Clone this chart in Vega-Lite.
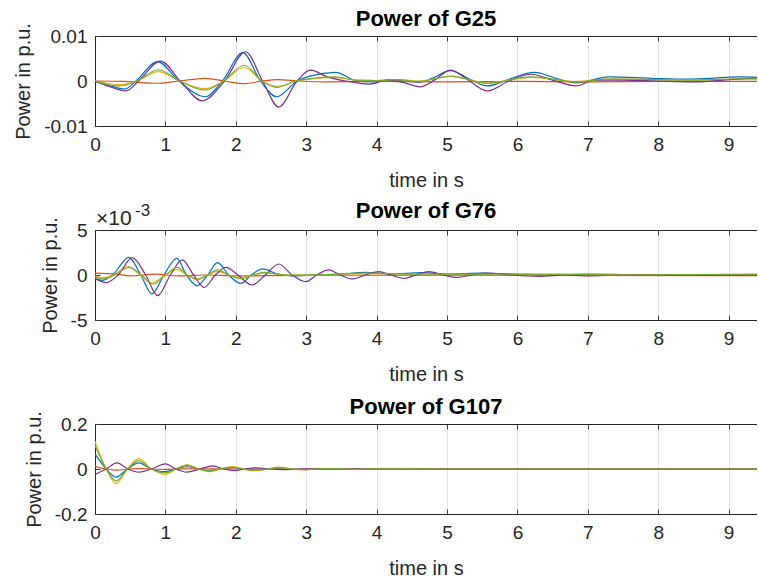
{
  "$schema": "https://vega.github.io/schema/vega-lite/v6.json",
  "background": "white",
  "padding": {"left": 13, "top": 7, "right": 0, "bottom": 0},
  "spacing": 104,
  "bounds": "flush",
  "config": {
    "font": "Liberation Sans",
    "view": {"stroke": null},
    "axis": {
      "domainColor": "#262626", "domainWidth": 1,
      "tickColor": "#404040", "tickWidth": 1,
      "labelColor": "#262626", "labelFont": "Liberation Sans", "labelFontSize": 19,
      "titleColor": "#262626", "titleFont": "Liberation Sans", "titleFontSize": 20, "titleFontWeight": "normal",
      "gridColor": "#e3e3e3", "gridWidth": 1
    },
    "title": {"font": "Liberation Sans", "fontSize": 22, "fontWeight": "bold", "color": "#000000", "anchor": "middle", "offset": -8}
  },
  "datasets": {
    "g25": [
      {"s":"s1","t":0,"v":0},{"s":"s1","t":0.2,"v":-0.001},{"s":"s1","t":0.42,"v":-0.0018},{"s":"s1","t":0.58,"v":0},{"s":"s1","t":0.89,"v":0.0043},{"s":"s1","t":1.19,"v":0},{"s":"s1","t":1.57,"v":-0.0035},{"s":"s1","t":1.81,"v":0},{"s":"s1","t":2.1,"v":0.0063},{"s":"s1","t":2.35,"v":0},{"s":"s1","t":2.58,"v":-0.0035},{"s":"s1","t":2.87,"v":0},{"s":"s1","t":3.05,"v":0.0011},{"s":"s1","t":3.42,"v":0.0019},{"s":"s1","t":3.7,"v":0.0001},{"s":"s1","t":3.95,"v":-0.0002},{"s":"s1","t":4.2,"v":0.0003},{"s":"s1","t":4.6,"v":-0.0003},{"s":"s1","t":4.8,"v":0.0007},{"s":"s1","t":5.05,"v":0.0023},{"s":"s1","t":5.3,"v":0.0006},{"s":"s1","t":5.57,"v":-0.0011},{"s":"s1","t":5.9,"v":0.0005},{"s":"s1","t":6.24,"v":0.0019},{"s":"s1","t":6.55,"v":0.0006},{"s":"s1","t":6.83,"v":-0.0004},{"s":"s1","t":7.3,"v":0.0009},{"s":"s1","t":7.9,"v":0.0006},{"s":"s1","t":8.4,"v":0.0004},{"s":"s1","t":9.17,"v":0.0009},{"s":"s1","t":9.42,"v":0.0008},
      {"s":"s2","t":0,"v":0},{"s":"s2","t":0.4,"v":-0.0001},{"s":"s2","t":0.9,"v":-0.0005},{"s":"s2","t":1.2,"v":0},{"s":"s2","t":1.56,"v":0.0006},{"s":"s2","t":1.84,"v":0},{"s":"s2","t":2.12,"v":-0.0006},{"s":"s2","t":2.37,"v":0},{"s":"s2","t":2.6,"v":0.0003},{"s":"s2","t":2.9,"v":0},{"s":"s2","t":3.3,"v":-0.0002},{"s":"s2","t":4,"v":-0.0001},{"s":"s2","t":5,"v":-0.0002},{"s":"s2","t":6,"v":-0.0001},{"s":"s2","t":7,"v":-0.0002},{"s":"s2","t":8,"v":-0.0001},{"s":"s2","t":9.42,"v":-0.0001},
      {"s":"s3","t":0,"v":0},{"s":"s3","t":0.35,"v":-0.0008},{"s":"s3","t":0.6,"v":0},{"s":"s3","t":0.9,"v":0.0021},{"s":"s3","t":1.2,"v":0},{"s":"s3","t":1.56,"v":-0.0017},{"s":"s3","t":1.83,"v":0},{"s":"s3","t":2.12,"v":0.003},{"s":"s3","t":2.37,"v":0},{"s":"s3","t":2.6,"v":-0.0012},{"s":"s3","t":2.85,"v":0},{"s":"s3","t":3.1,"v":0.0005},{"s":"s3","t":3.4,"v":0.0008},{"s":"s3","t":3.7,"v":0.0002},{"s":"s3","t":4,"v":0.0001},{"s":"s3","t":4.3,"v":0.0003},{"s":"s3","t":4.6,"v":0},{"s":"s3","t":5.05,"v":0.001},{"s":"s3","t":5.57,"v":-0.0004},{"s":"s3","t":6.2,"v":0.0008},{"s":"s3","t":6.83,"v":-0.0001},{"s":"s3","t":7.3,"v":0.0004},{"s":"s3","t":8,"v":0.0003},{"s":"s3","t":8.5,"v":0.0002},{"s":"s3","t":9.2,"v":0.0004},{"s":"s3","t":9.42,"v":0.0004},
      {"s":"s4","t":0,"v":0},{"s":"s4","t":0.2,"v":-0.0012},{"s":"s4","t":0.44,"v":-0.0022},{"s":"s4","t":0.62,"v":0},{"s":"s4","t":0.93,"v":0.0044},{"s":"s4","t":1.21,"v":0},{"s":"s4","t":1.52,"v":-0.0044},{"s":"s4","t":1.84,"v":0},{"s":"s4","t":2.14,"v":0.0065},{"s":"s4","t":2.38,"v":0},{"s":"s4","t":2.61,"v":-0.0058},{"s":"s4","t":2.87,"v":0},{"s":"s4","t":3.06,"v":0.0024},{"s":"s4","t":3.32,"v":0.0008},{"s":"s4","t":3.6,"v":-0.0001},{"s":"s4","t":3.89,"v":-0.0007},{"s":"s4","t":4.16,"v":0.0002},{"s":"s4","t":4.4,"v":-0.0004},{"s":"s4","t":4.62,"v":-0.0013},{"s":"s4","t":4.83,"v":0.0003},{"s":"s4","t":5.05,"v":0.0024},{"s":"s4","t":5.3,"v":0.0002},{"s":"s4","t":5.57,"v":-0.0022},{"s":"s4","t":5.88,"v":0},{"s":"s4","t":6.19,"v":0.0015},{"s":"s4","t":6.5,"v":0.0002},{"s":"s4","t":6.83,"v":-0.0011},{"s":"s4","t":7.1,"v":0.0002},{"s":"s4","t":7.5,"v":0.0002},{"s":"s4","t":8,"v":0},{"s":"s4","t":8.53,"v":-0.0002},{"s":"s4","t":9,"v":0.0003},{"s":"s4","t":9.42,"v":0.0007},
      {"s":"s5","t":0,"v":0},{"s":"s5","t":0.35,"v":-0.0011},{"s":"s5","t":0.6,"v":0},{"s":"s5","t":0.9,"v":0.0025},{"s":"s5","t":1.2,"v":0},{"s":"s5","t":1.56,"v":-0.002},{"s":"s5","t":1.83,"v":0},{"s":"s5","t":2.12,"v":0.0035},{"s":"s5","t":2.37,"v":0},{"s":"s5","t":2.58,"v":-0.0014},{"s":"s5","t":2.85,"v":0},{"s":"s5","t":3.1,"v":0.0006},{"s":"s5","t":3.4,"v":0.0009},{"s":"s5","t":3.7,"v":0.0002},{"s":"s5","t":4,"v":0.0001},{"s":"s5","t":4.3,"v":0.0003},{"s":"s5","t":4.6,"v":-0.0001},{"s":"s5","t":5.05,"v":0.0011},{"s":"s5","t":5.57,"v":-0.0005},{"s":"s5","t":6.2,"v":0.0009},{"s":"s5","t":6.83,"v":-0.0002},{"s":"s5","t":7.3,"v":0.0004},{"s":"s5","t":8,"v":0.0003},{"s":"s5","t":8.5,"v":0.0002},{"s":"s5","t":9.2,"v":0.0005},{"s":"s5","t":9.42,"v":0.0005}
    ],
    "g76": [
      {"s":"s1","t":0,"v":-0.0004},{"s":"s1","t":0.1,"v":-0.0006},{"s":"s1","t":0.25,"v":0},{"s":"s1","t":0.48,"v":0.00196},{"s":"s1","t":0.65,"v":0},{"s":"s1","t":0.81,"v":-0.0021},{"s":"s1","t":0.98,"v":0},{"s":"s1","t":1.16,"v":0.00185},{"s":"s1","t":1.3,"v":0},{"s":"s1","t":1.45,"v":-0.0012},{"s":"s1","t":1.6,"v":0},{"s":"s1","t":1.74,"v":0.00137},{"s":"s1","t":1.9,"v":0},{"s":"s1","t":2.07,"v":-0.00093},{"s":"s1","t":2.22,"v":0},{"s":"s1","t":2.38,"v":0.00067},{"s":"s1","t":2.6,"v":0.0001},{"s":"s1","t":2.8,"v":-0.0001},{"s":"s1","t":3.1,"v":0},{"s":"s1","t":3.5,"v":0.0001},{"s":"s1","t":3.84,"v":0.0003},{"s":"s1","t":4.2,"v":0.0001},{"s":"s1","t":4.65,"v":0.00026},{"s":"s1","t":5,"v":0.0001},{"s":"s1","t":5.5,"v":0.0002},{"s":"s1","t":6,"v":0.0001},{"s":"s1","t":6.5,"v":0},{"s":"s1","t":7,"v":0.0001},{"s":"s1","t":8,"v":0},{"s":"s1","t":9.42,"v":0},
      {"s":"s2","t":0,"v":0.0002},{"s":"s2","t":0.3,"v":0.0001},{"s":"s2","t":0.5,"v":-0.0001},{"s":"s2","t":0.85,"v":0.0001},{"s":"s2","t":1.2,"v":-0.0001},{"s":"s2","t":1.6,"v":0},{"s":"s2","t":2,"v":-0.0001},{"s":"s2","t":3,"v":-0.00005},{"s":"s2","t":9.42,"v":-0.00007},
      {"s":"s3","t":0,"v":-0.0001},{"s":"s3","t":0.1,"v":-0.0003},{"s":"s3","t":0.27,"v":0},{"s":"s3","t":0.46,"v":0.001},{"s":"s3","t":0.64,"v":0},{"s":"s3","t":0.8,"v":-0.0009},{"s":"s3","t":1,"v":0},{"s":"s3","t":1.16,"v":0.0006},{"s":"s3","t":1.31,"v":0},{"s":"s3","t":1.45,"v":-0.0004},{"s":"s3","t":1.6,"v":0},{"s":"s3","t":1.74,"v":0.0004},{"s":"s3","t":1.9,"v":0},{"s":"s3","t":2.07,"v":-0.0003},{"s":"s3","t":2.25,"v":0},{"s":"s3","t":2.4,"v":0.0002},{"s":"s3","t":2.8,"v":0},{"s":"s3","t":9.42,"v":0.00005},
      {"s":"s4","t":0,"v":-0.0004},{"s":"s4","t":0.16,"v":-0.00085},{"s":"s4","t":0.33,"v":0},{"s":"s4","t":0.53,"v":0.00193},{"s":"s4","t":0.72,"v":0},{"s":"s4","t":0.89,"v":-0.0023},{"s":"s4","t":1.07,"v":0},{"s":"s4","t":1.24,"v":0.00167},{"s":"s4","t":1.4,"v":0},{"s":"s4","t":1.55,"v":-0.00137},{"s":"s4","t":1.71,"v":0},{"s":"s4","t":1.86,"v":0.00085},{"s":"s4","t":2.03,"v":0},{"s":"s4","t":2.23,"v":-0.00111},{"s":"s4","t":2.42,"v":0},{"s":"s4","t":2.61,"v":0.00122},{"s":"s4","t":2.8,"v":0},{"s":"s4","t":2.99,"v":-0.00074},{"s":"s4","t":3.15,"v":0},{"s":"s4","t":3.32,"v":0.00056},{"s":"s4","t":3.48,"v":0},{"s":"s4","t":3.65,"v":-0.00044},{"s":"s4","t":3.84,"v":0},{"s":"s4","t":4.03,"v":0.00037},{"s":"s4","t":4.2,"v":0},{"s":"s4","t":4.39,"v":-0.00037},{"s":"s4","t":4.56,"v":0},{"s":"s4","t":4.74,"v":0.00037},{"s":"s4","t":4.95,"v":0},{"s":"s4","t":5.15,"v":-0.00026},{"s":"s4","t":5.35,"v":0},{"s":"s4","t":5.55,"v":0.00022},{"s":"s4","t":5.9,"v":0},{"s":"s4","t":6.3,"v":-0.00015},{"s":"s4","t":6.7,"v":0},{"s":"s4","t":6.96,"v":-0.0001},{"s":"s4","t":7.5,"v":0},{"s":"s4","t":8,"v":-0.00003},{"s":"s4","t":9.42,"v":-0.00003},
      {"s":"s5","t":0,"v":-0.0002},{"s":"s5","t":0.1,"v":-0.00044},{"s":"s5","t":0.28,"v":0},{"s":"s5","t":0.48,"v":0.00085},{"s":"s5","t":0.66,"v":0},{"s":"s5","t":0.83,"v":-0.001},{"s":"s5","t":1,"v":0},{"s":"s5","t":1.17,"v":0.00085},{"s":"s5","t":1.31,"v":0},{"s":"s5","t":1.45,"v":-0.0005},{"s":"s5","t":1.6,"v":0},{"s":"s5","t":1.74,"v":0.00056},{"s":"s5","t":1.9,"v":0},{"s":"s5","t":2.07,"v":-0.0004},{"s":"s5","t":2.25,"v":0},{"s":"s5","t":2.4,"v":0.0003},{"s":"s5","t":2.7,"v":0},{"s":"s5","t":3,"v":0},{"s":"s5","t":3.84,"v":0.0002},{"s":"s5","t":4.6,"v":0.0001},{"s":"s5","t":5.5,"v":0.0001},{"s":"s5","t":6.5,"v":0.0001},{"s":"s5","t":7.5,"v":0},{"s":"s5","t":9.42,"v":0.0001}
    ],
    "g107": [
      {"s":"s1","t":0,"v":0.067},{"s":"s1","t":0.16,"v":0},{"s":"s1","t":0.3,"v":-0.036},{"s":"s1","t":0.46,"v":0},{"s":"s1","t":0.62,"v":0.027},{"s":"s1","t":0.8,"v":0},{"s":"s1","t":1,"v":-0.012},{"s":"s1","t":1.15,"v":0},{"s":"s1","t":1.31,"v":0.01},{"s":"s1","t":1.47,"v":0},{"s":"s1","t":1.62,"v":-0.007},{"s":"s1","t":1.78,"v":0},{"s":"s1","t":1.95,"v":0.006},{"s":"s1","t":2.1,"v":0},{"s":"s1","t":2.28,"v":-0.005},{"s":"s1","t":2.45,"v":0},{"s":"s1","t":2.61,"v":0.004},{"s":"s1","t":2.8,"v":0},{"s":"s1","t":2.95,"v":-0.002},{"s":"s1","t":3.3,"v":0.001},{"s":"s1","t":4,"v":0},{"s":"s1","t":9.42,"v":0},
      {"s":"s2","t":0,"v":0.012},{"s":"s2","t":0.15,"v":0},{"s":"s2","t":0.3,"v":-0.005},{"s":"s2","t":0.5,"v":0},{"s":"s2","t":0.62,"v":0.002},{"s":"s2","t":1,"v":-0.002},{"s":"s2","t":1.3,"v":0.001},{"s":"s2","t":2,"v":0},{"s":"s2","t":9.42,"v":0},
      {"s":"s3","t":0,"v":0.122},{"s":"s3","t":0.16,"v":0},{"s":"s3","t":0.3,"v":-0.065},{"s":"s3","t":0.46,"v":0},{"s":"s3","t":0.62,"v":0.046},{"s":"s3","t":0.8,"v":0},{"s":"s3","t":1,"v":-0.024},{"s":"s3","t":1.15,"v":0},{"s":"s3","t":1.31,"v":0.02},{"s":"s3","t":1.47,"v":0},{"s":"s3","t":1.62,"v":-0.012},{"s":"s3","t":1.78,"v":0},{"s":"s3","t":1.95,"v":0.011},{"s":"s3","t":2.1,"v":0},{"s":"s3","t":2.28,"v":-0.007},{"s":"s3","t":2.45,"v":0},{"s":"s3","t":2.61,"v":0.008},{"s":"s3","t":2.8,"v":0},{"s":"s3","t":2.95,"v":-0.004},{"s":"s3","t":3.3,"v":0.003},{"s":"s3","t":3.7,"v":-0.001},{"s":"s3","t":4,"v":0.001},{"s":"s3","t":5,"v":0},{"s":"s3","t":9.42,"v":0},
      {"s":"s4","t":0,"v":-0.024},{"s":"s4","t":0.16,"v":0},{"s":"s4","t":0.31,"v":0.027},{"s":"s4","t":0.47,"v":0},{"s":"s4","t":0.62,"v":-0.014},{"s":"s4","t":0.8,"v":0},{"s":"s4","t":1,"v":0.023},{"s":"s4","t":1.15,"v":0},{"s":"s4","t":1.3,"v":-0.014},{"s":"s4","t":1.5,"v":0},{"s":"s4","t":1.67,"v":0.014},{"s":"s4","t":1.83,"v":0},{"s":"s4","t":1.98,"v":-0.007},{"s":"s4","t":2.13,"v":0},{"s":"s4","t":2.28,"v":0.005},{"s":"s4","t":2.5,"v":0},{"s":"s4","t":2.7,"v":-0.003},{"s":"s4","t":3,"v":0.001},{"s":"s4","t":3.5,"v":0},{"s":"s4","t":9.42,"v":0},
      {"s":"s5","t":0,"v":0.105},{"s":"s5","t":0.16,"v":0},{"s":"s5","t":0.3,"v":-0.053},{"s":"s5","t":0.46,"v":0},{"s":"s5","t":0.62,"v":0.037},{"s":"s5","t":0.8,"v":0},{"s":"s5","t":1,"v":-0.017},{"s":"s5","t":1.15,"v":0},{"s":"s5","t":1.31,"v":0.016},{"s":"s5","t":1.47,"v":0},{"s":"s5","t":1.62,"v":-0.009},{"s":"s5","t":1.78,"v":0},{"s":"s5","t":1.95,"v":0.009},{"s":"s5","t":2.1,"v":0},{"s":"s5","t":2.28,"v":-0.006},{"s":"s5","t":2.45,"v":0},{"s":"s5","t":2.61,"v":0.006},{"s":"s5","t":2.8,"v":0},{"s":"s5","t":2.95,"v":-0.003},{"s":"s5","t":3.3,"v":0.002},{"s":"s5","t":3.7,"v":-0.001},{"s":"s5","t":4,"v":0.001},{"s":"s5","t":5,"v":0},{"s":"s5","t":9.42,"v":0}
    ]
  },
  "vconcat": [
    {
      "width": 662, "height": 90,
      "title": {"text": "Power of G25"},
      "resolve": {"axis": {"x": "independent"}},
      "layer": [
        {
          "data": {"name": "g25"},
          "mark": {"type": "line", "strokeWidth": 1.2, "interpolate": "monotone", "clip": true},
          "encoding": {
            "x": {"field": "t", "type": "quantitative", "scale": {"domain": [0, 9.403], "nice": false, "zero": false},
              "axis": {"values": [0,1,2,3,4,5,6,7,8,9], "grid": true, "tickSize": -5, "labelPadding": 14, "labelFlush": false, "labelOverlap": false, "title": "time in s", "titlePadding": 16}},
            "y": {"field": "v", "type": "quantitative", "scale": {"domain": [-0.01, 0.01], "nice": false},
              "axis": {"values": [-0.01, 0, 0.01], "labelExpr": "datum.value > 0 ? '0.01' : (datum.value < 0 ? '-0.01' : '0')", "grid": false, "tickSize": -5, "labelPadding": 13, "title": "Power in p.u.", "titlePadding": 10}},
            "color": {"field": "s", "type": "nominal", "scale": {"domain": ["s1","s2","s3","s4","s5"], "range": ["#0072BD","#D95319","#EDB120","#7E2F8E","#77AC30"]}, "legend": null}
          }
        },
        {
          "data": {"values": [{}]},
          "mark": {"type": "rule", "opacity": 0},
          "encoding": {
            "x": {"datum": 0, "type": "quantitative", "axis": {"orient": "top", "values": [0,1,2,3,4,5,6,7,8,9], "labels": false, "grid": false, "tickSize": -5, "title": null}}
          }
        }
      ]
    },
    {
      "width": 662, "height": 90,
      "title": {"text": "Power of G76", "offset": -21},
      "resolve": {"axis": {"x": "independent"}},
      "layer": [
        {
          "data": {"name": "g76"},
          "mark": {"type": "line", "strokeWidth": 1.2, "interpolate": "monotone", "clip": true},
          "encoding": {
            "x": {"field": "t", "type": "quantitative", "scale": {"domain": [0, 9.403], "nice": false, "zero": false},
              "axis": {"values": [0,1,2,3,4,5,6,7,8,9], "grid": true, "tickSize": -5, "labelPadding": 14, "labelFlush": false, "labelOverlap": false, "title": "time in s", "titlePadding": 16}},
            "y": {"field": "v", "type": "quantitative", "scale": {"domain": [-0.005, 0.005], "nice": false},
              "axis": {"values": [-0.005, 0, 0.005], "labelExpr": "datum.value > 0 ? '5' : (datum.value < 0 ? '-5' : '0')", "grid": false, "tickSize": -5, "labelPadding": 13, "title": "Power in p.u.", "titlePadding": 10}},
            "color": {"field": "s", "type": "nominal", "scale": {"domain": ["s1","s2","s3","s4","s5"], "range": ["#0072BD","#D95319","#EDB120","#7E2F8E","#77AC30"]}, "legend": null}
          }
        },
        {
          "data": {"values": [{}]},
          "mark": {"type": "rule", "opacity": 0},
          "encoding": {
            "x": {"datum": 0, "type": "quantitative", "axis": {"orient": "top", "values": [0,1,2,3,4,5,6,7,8,9], "labels": false, "grid": false, "tickSize": -5, "title": null}}
          }
        },
        {
          "data": {"values": [{}]},
          "mark": {"type": "text", "text": "×10", "align": "left", "baseline": "alphabetic", "dx": 1, "dy": -5, "fontSize": 21, "color": "#262626", "font": "Liberation Sans"},
          "encoding": {"x": {"datum": 0, "type": "quantitative", "axis": null}, "y": {"datum": 0.005, "type": "quantitative"}}
        },
        {
          "data": {"values": [{}]},
          "mark": {"type": "text", "text": "-3", "align": "left", "baseline": "alphabetic", "dx": 40, "dy": -14, "fontSize": 17, "color": "#262626", "font": "Liberation Sans"},
          "encoding": {"x": {"datum": 0, "type": "quantitative", "axis": null}, "y": {"datum": 0.005, "type": "quantitative"}}
        }
      ]
    },
    {
      "width": 662, "height": 90,
      "title": {"text": "Power of G107"},
      "resolve": {"axis": {"x": "independent"}},
      "layer": [
        {
          "data": {"name": "g107"},
          "mark": {"type": "line", "strokeWidth": 1.2, "interpolate": "monotone", "clip": true},
          "encoding": {
            "x": {"field": "t", "type": "quantitative", "scale": {"domain": [0, 9.403], "nice": false, "zero": false},
              "axis": {"values": [0,1,2,3,4,5,6,7,8,9], "grid": true, "tickSize": -5, "labelPadding": 14, "labelFlush": false, "labelOverlap": false, "title": "time in s", "titlePadding": 16}},
            "y": {"field": "v", "type": "quantitative", "scale": {"domain": [-0.2, 0.2], "nice": false},
              "axis": {"values": [-0.2, 0, 0.2], "labelExpr": "datum.value > 0 ? '0.2' : (datum.value < 0 ? '-0.2' : '0')", "grid": false, "tickSize": -5, "labelPadding": 13, "title": "Power in p.u.", "titlePadding": 10}},
            "color": {"field": "s", "type": "nominal", "scale": {"domain": ["s1","s2","s3","s4","s5"], "range": ["#0072BD","#D95319","#EDB120","#7E2F8E","#77AC30"]}, "legend": null}
          }
        },
        {
          "data": {"values": [{}]},
          "mark": {"type": "rule", "opacity": 0},
          "encoding": {
            "x": {"datum": 0, "type": "quantitative", "axis": {"orient": "top", "values": [0,1,2,3,4,5,6,7,8,9], "labels": false, "grid": false, "tickSize": -5, "title": null}}
          }
        }
      ]
    }
  ]
}
